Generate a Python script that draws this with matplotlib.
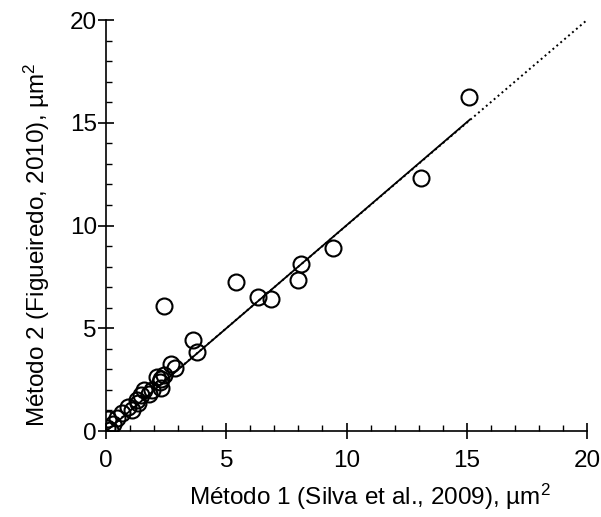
import numpy as np
import matplotlib
matplotlib.use("Agg")
import matplotlib.pyplot as plt
from matplotlib.ticker import MultipleLocator

plt.rcParams['font.family'] = ['Liberation Sans', 'DejaVu Sans']
plt.rcParams['mathtext.fontset'] = 'custom'
plt.rcParams['mathtext.rm'] = 'Liberation Sans'
plt.rcParams['mathtext.default'] = 'regular'

# method 1 vs method 2 areas (um^2)
metodo1 = [0.1, 0.05, 0.15, 0.3, 0.45, 0.65, 0.9, 1.1, 1.3, 1.35, 1.45, 1.6, 1.8,
           1.9, 2.1, 2.25, 2.3, 2.3, 2.4, 2.7, 2.85, 2.4, 3.6, 3.8, 5.4, 6.3, 6.85,
           8.0, 8.1, 9.45, 13.1, 15.1]
metodo2 = [0.6, 0.15, 0.05, 0.35, 0.65, 0.9, 1.15, 1.0, 1.5, 1.35, 1.75, 2.0, 1.8,
           2.0, 2.65, 2.4, 2.55, 2.1, 2.75, 3.25, 3.05, 6.1, 4.45, 3.85, 7.25, 6.5, 6.4,
           7.35, 8.15, 8.9, 12.3, 16.25]

# regression line (solid) and 1:1 line (dotted)
reg_slope, reg_intercept = 1.003, -0.02
reg_range = [0.0, 15.13]
ident = [0, 20]

fig = plt.figure(figsize=(6.01, 5.17), dpi=100)
ax = fig.add_axes([0.1764, 0.1663, 0.8003, 0.795])

ax.plot(ident, ident, ':', color='black', lw=1.4, zorder=1)
xr = np.array(reg_range)
ax.plot(xr, reg_slope * xr + reg_intercept, '-', color='black', lw=1.3, zorder=2)
ax.plot(metodo1, metodo2, 'o', mfc='none', mec='black', ms=11.5, mew=1.5, zorder=3)

ax.set_xlim(0, 20)
ax.set_ylim(0, 20)
ax.xaxis.set_major_locator(MultipleLocator(5))
ax.yaxis.set_major_locator(MultipleLocator(5))
ax.xaxis.set_minor_locator(MultipleLocator(1))
ax.yaxis.set_minor_locator(MultipleLocator(1))
ax.tick_params(which='major', direction='inout', length=12, width=1.2, labelsize=17.5)
ax.tick_params(axis='x', which='major', pad=8)
ax.tick_params(axis='y', which='major', pad=0.5)
ax.tick_params(which='minor', direction='in', length=4.5, width=1.0)

for s in ['top', 'right']:
    ax.spines[s].set_visible(False)
for s in ['left', 'bottom']:
    ax.spines[s].set_linewidth(1.2)

ax.set_xlabel('Método 1 (Silva et al., 2009), µm$^2$', fontsize=17.5)
ax.set_ylabel('Método 2 (Figueiredo, 2010), µm$^2$', fontsize=17.5)
ax.xaxis.set_label_coords(0.549, -0.124)
ax.yaxis.set_label_coords(-0.112, 0.452)

fig.savefig('out.png', dpi=100)
